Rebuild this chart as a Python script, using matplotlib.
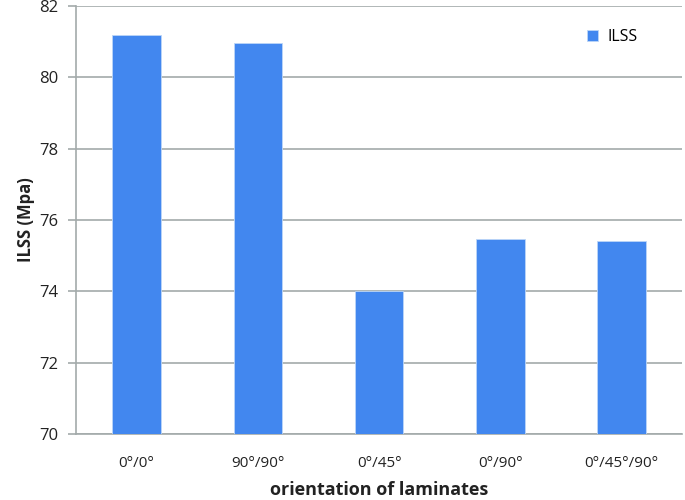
import matplotlib.pyplot as plt

plt.rcParams['font.family'] = ['Open Sans', 'DejaVu Sans']

orientations = ['0°/0°', '90°/90°', '0°/45°', '0°/90°', '0°/45°/90°']
ilss = [81.2, 80.97, 74.0, 75.47, 75.42]
y_ticks = [70, 72, 74, 76, 78, 80, 82]

fig = plt.figure(figsize=(6.85, 5), dpi=100)
ax = fig.add_axes([0.111, 0.132, 0.885, 0.856])

x = range(len(orientations))
ax.bar(x, ilss, width=0.4, color='#4287ef', edgecolor='#bcd6f8', linewidth=0.6,
       label='ILSS', zorder=3)

ax.set_ylim(70, 82)
ax.set_xlim(-0.5, len(orientations) - 0.5)
ax.set_yticks(y_ticks)
ax.set_xticks(list(x))
ax.set_xticklabels(orientations)
ax.yaxis.grid(True, color='#a3aaaa', linewidth=1.2, zorder=0)

for s in ['top', 'right']:
    ax.spines[s].set_visible(False)
for s in ['left', 'bottom']:
    ax.spines[s].set_color('#a3aaaa')
    ax.spines[s].set_linewidth(1.2)

ax.tick_params(axis='y', length=6, width=1.2, color='#a3aaaa', labelsize=12, pad=7,
               labelcolor='#222222')
ax.tick_params(axis='x', length=0, labelsize=11, pad=16, labelcolor='#222222')

ax.set_ylabel('ILSS (Mpa)', fontsize=12, fontweight='bold', labelpad=3, color='#222222')
ax.set_xlabel('orientation of laminates', fontsize=13, fontweight='bold', labelpad=7,
              color='#222222')

ax.legend(loc='upper right', bbox_to_anchor=(0.95, 0.98), frameon=False,
          fontsize=11.5, handlelength=0.7, handleheight=0.7, handletextpad=0.6)

fig.savefig('out.png', dpi=100)
